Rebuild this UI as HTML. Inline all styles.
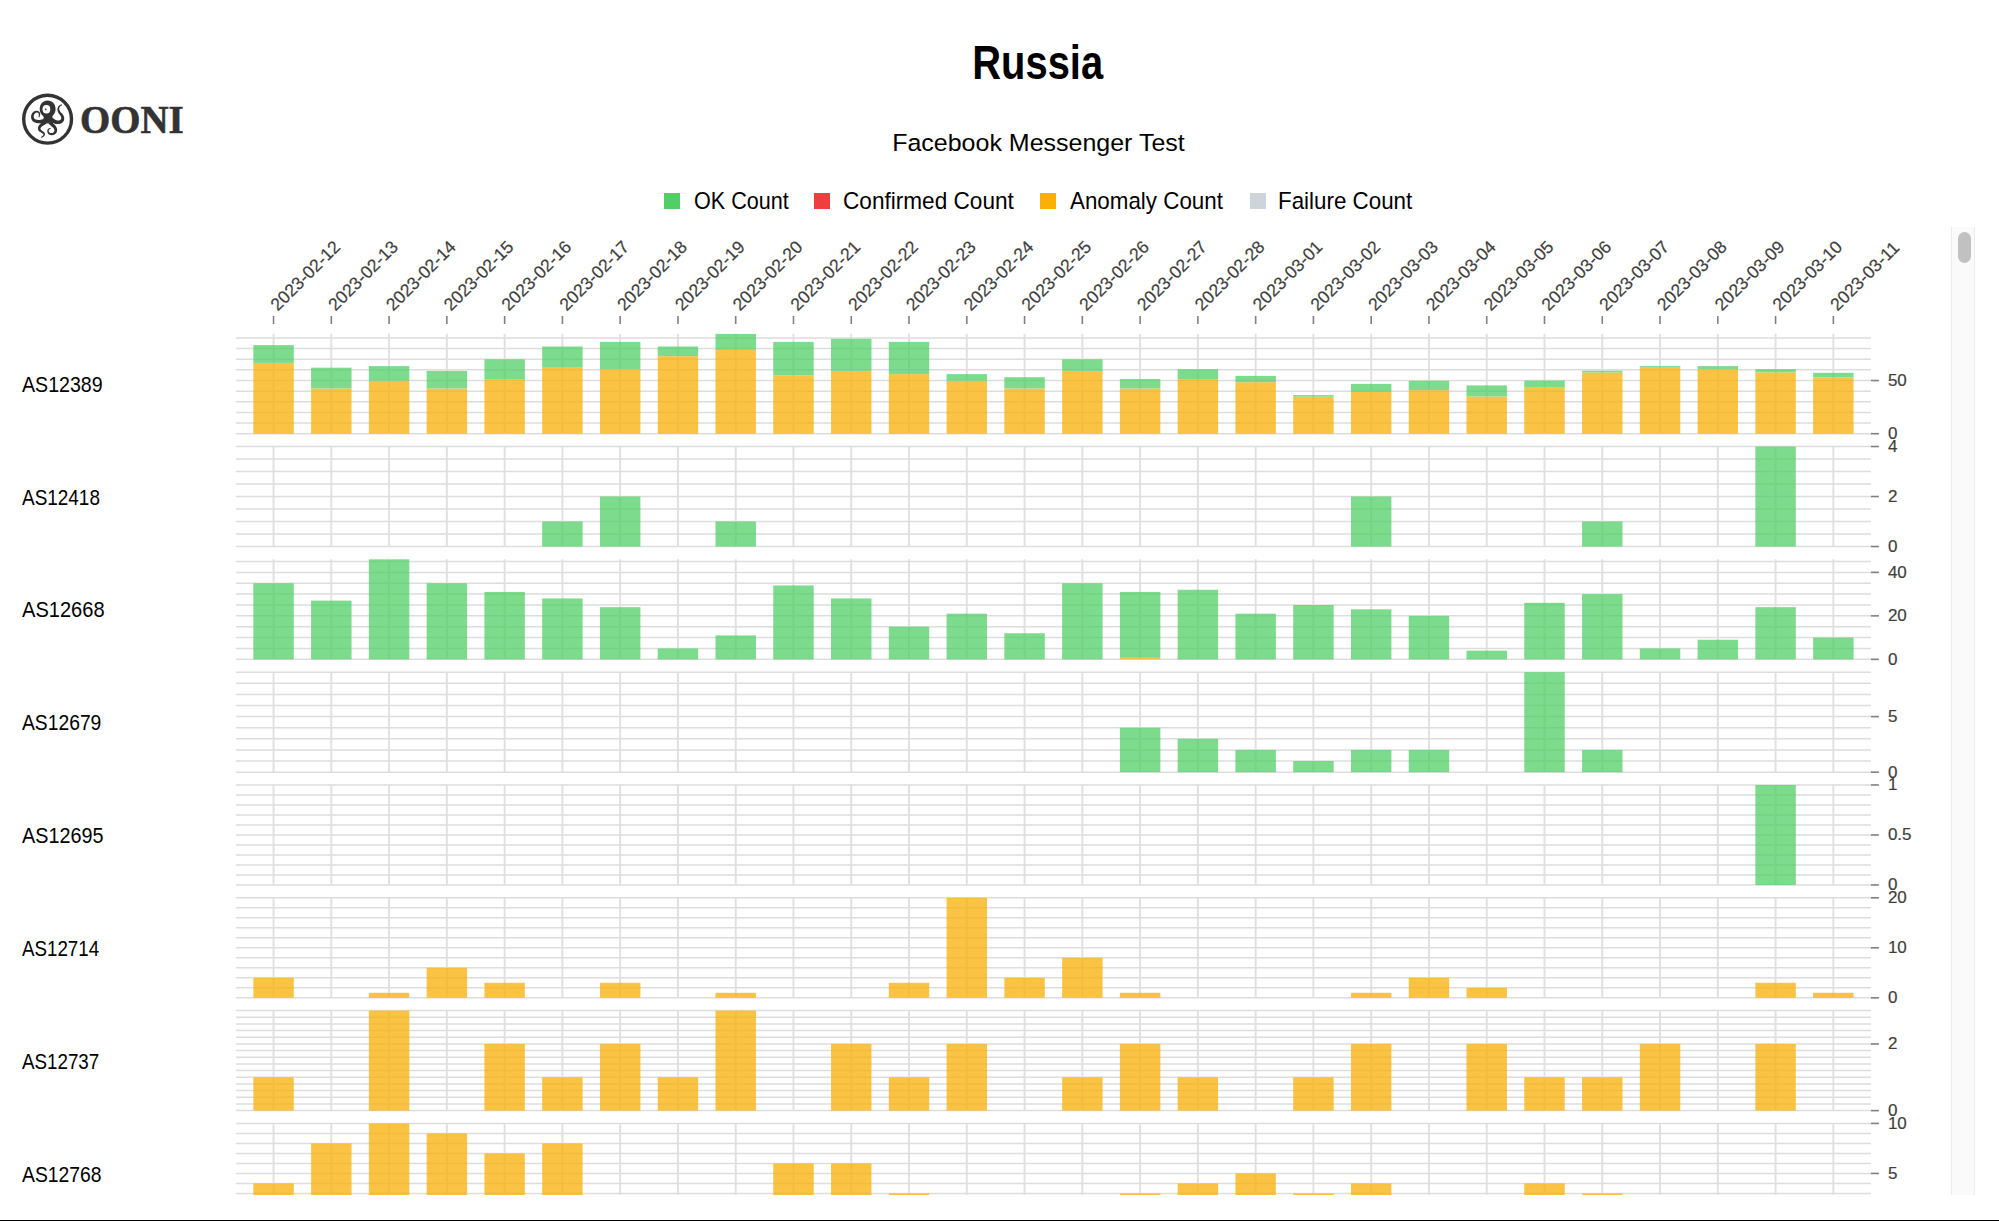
<!DOCTYPE html>
<html><head><meta charset="utf-8"><title>Russia - Facebook Messenger Test</title>
<style>
html,body{margin:0;padding:0;background:#fff;}
body{width:1999px;height:1221px;position:relative;overflow:hidden;font-family:"Liberation Sans",sans-serif;color:#000;}
.abs{position:absolute;}
#title{position:absolute;left:0;width:2076px;top:33.1px;text-align:center;font-weight:bold;font-size:47.4px;line-height:60px;white-space:nowrap;}
#title span{display:inline-block;transform:scaleX(0.842);}
#sub{position:absolute;left:0;width:2077px;top:126px;text-align:center;font-size:24.5px;line-height:34px;white-space:nowrap;}
#sub span{display:inline-block;transform:scaleX(1.02);}
.leg{position:absolute;top:193px;width:16.4px;height:16.4px;}
.lt{position:absolute;top:186px;font-size:23.25px;line-height:30px;white-space:nowrap;transform-origin:0 50%;}
#cont{position:absolute;left:0;top:227.0px;width:1976px;height:968px;overflow:hidden;}
#cont svg{position:absolute;left:0;top:0;}
.asn{position:absolute;left:22px;font-size:22.6px;line-height:24px;margin-top:-11.5px;white-space:nowrap;transform-origin:0 50%;transform:scaleX(0.86);}
.tk{stroke:#808080;stroke-width:1.6;}
.gr{stroke:#dddddd;stroke-width:1.5;fill:none;}
.gv{stroke:#e0e0e0;stroke-width:1.9;fill:none;}
.dt{font-family:"Liberation Sans",sans-serif;font-size:17.6px;fill:#3d3d3d;stroke:#4d4d4d;stroke-width:0.2px;dominant-baseline:central;}
.yt{font-family:"Liberation Sans",sans-serif;font-size:17px;fill:#3d3d3d;stroke:#4d4d4d;stroke-width:0.2px;dominant-baseline:central;}
#track{position:absolute;left:1951px;top:227px;width:24px;height:968px;background:#fafafa;border-left:1px solid #ececec;border-right:1px solid #ececec;box-sizing:border-box;}
#thumb{position:absolute;left:1958px;top:232px;width:13px;height:31px;background:#c1c1c1;border-radius:7px;}
#bottom{position:absolute;left:0;top:1220px;width:1999px;height:1px;background:#000;}
</style></head><body>
<div id="title"><span>Russia</span></div>
<svg class="abs" style="left:20px;top:91px" width="56" height="56" viewBox="0 0 56 56">
  <circle cx="27.6" cy="28.2" r="23.9" fill="none" stroke="#333" stroke-width="3.4"/>
  <g fill="#333" stroke="none">
    <path d="M27.6 9.6 C32.5 9.6 35.6 13.5 35.6 18.3 C35.6 21.8 33.6 23.6 32.3 25.4 C31.6 26.6 32.2 28.2 33 29.5 L27.6 32.6 L22.3 29.5 C23.2 28.2 24.4 26.6 23.3 25.2 C21 23.2 19.7 21.2 19.7 18.3 C19.7 13.5 22.7 9.6 27.6 9.6 Z"/>
  </g>
  <path fill="#333" d="M24.8 27.6 L24.4 27.7 L24.0 27.9 L23.6 28.1 L23.1 28.2 L22.7 28.3 L22.3 28.4 L21.9 28.6 L21.4 28.6 L21.0 28.7 L20.6 28.8 L20.2 28.9 L19.7 28.9 L19.3 28.9 L18.9 28.9 L18.5 28.9 L18.1 28.9 L17.7 28.9 L17.3 28.8 L16.9 28.8 L16.5 28.7 L16.2 28.6 L15.9 28.5 L15.5 28.4 L15.3 28.3 L15.0 28.1 L14.8 28.0 L14.6 27.8 L14.4 27.6 L14.3 27.4 L14.1 27.1 L14.0 26.9 L13.9 26.6 L13.8 26.3 L13.8 26.0 L13.7 25.6 L13.7 25.3 L13.8 25.0 L13.8 24.6 L13.9 24.3 L14.0 24.0 L14.1 23.6 L14.3 23.3 L14.5 23.0 L14.7 22.7 L14.9 22.5 L15.2 22.2 L15.5 22.0 L15.8 21.8 L15.9 21.8 L16.1 21.7 L16.3 21.6 L16.5 21.6 L16.7 21.6 L16.9 21.6 L17.1 21.6 L17.3 21.6 L17.4 21.6 L17.6 21.7 L17.7 21.7 L17.9 21.8 L18.0 21.9 L18.1 22.0 L18.3 22.1 L18.4 22.2 L18.5 22.3 L18.6 22.4 L18.6 22.5 L18.7 22.7 L18.8 22.8 L18.8 23.0 L18.8 23.2 L18.8 23.4 L18.8 23.5 L18.8 23.6 L18.8 23.8 L18.8 23.9 L18.8 24.0 L18.8 24.2 L18.8 24.3 L18.8 24.4 L18.8 24.5 L18.7 24.7 L18.7 24.8 L18.7 24.9 L18.7 25.0 L18.7 25.1 L18.6 25.2 L18.6 25.4 L18.6 25.5 L18.6 25.6 L18.5 25.7 L18.5 25.8 L18.5 25.9 L18.4 25.9 L18.4 26.0 L18.4 26.1 L19.2 26.5 L19.3 26.4 L19.3 26.3 L19.4 26.2 L19.4 26.1 L19.4 26.0 L19.5 25.9 L19.5 25.8 L19.6 25.7 L19.6 25.5 L19.7 25.4 L19.7 25.3 L19.8 25.2 L19.8 25.0 L19.8 24.9 L19.9 24.8 L19.9 24.6 L19.9 24.5 L20.0 24.4 L20.0 24.2 L20.0 24.1 L20.1 23.9 L20.1 23.8 L20.1 23.6 L20.2 23.4 L20.2 23.1 L20.2 22.8 L20.1 22.5 L20.1 22.2 L20.0 22.0 L19.9 21.7 L19.7 21.4 L19.6 21.2 L19.4 21.0 L19.2 20.8 L19.0 20.6 L18.8 20.4 L18.5 20.2 L18.2 20.1 L18.0 20.0 L17.7 19.9 L17.4 19.8 L17.1 19.8 L16.7 19.7 L16.4 19.7 L16.1 19.7 L15.7 19.8 L15.4 19.9 L15.0 20.0 L14.5 20.2 L14.0 20.5 L13.5 20.8 L13.1 21.2 L12.7 21.6 L12.3 22.0 L12.0 22.5 L11.8 23.0 L11.5 23.5 L11.4 24.0 L11.2 24.5 L11.1 25.1 L11.1 25.6 L11.1 26.1 L11.1 26.7 L11.2 27.2 L11.3 27.8 L11.5 28.3 L11.8 28.8 L12.0 29.3 L12.4 29.7 L12.8 30.2 L13.2 30.6 L13.7 30.9 L14.2 31.2 L14.7 31.4 L15.2 31.6 L15.7 31.8 L16.2 31.9 L16.7 32.0 L17.2 32.1 L17.8 32.2 L18.3 32.3 L18.8 32.3 L19.4 32.3 L19.9 32.3 L20.4 32.3 L21.0 32.2 L21.5 32.2 L22.1 32.1 L22.6 32.0 L23.2 31.9 L23.7 31.7 L24.2 31.6 L24.7 31.4 L25.2 31.3 L25.8 31.1 L26.2 30.8ZM29.3 28.9 L29.7 29.3 L30.1 29.8 L30.5 30.2 L31.0 30.6 L31.4 30.9 L31.9 31.3 L32.4 31.6 L32.9 31.9 L33.4 32.1 L33.9 32.3 L34.4 32.5 L35.0 32.7 L35.5 32.9 L36.0 33.0 L36.6 33.1 L37.1 33.1 L37.7 33.1 L38.2 33.1 L38.7 33.1 L39.3 33.0 L39.8 32.8 L40.3 32.7 L40.8 32.5 L41.4 32.2 L41.9 31.9 L42.3 31.6 L42.7 31.2 L43.1 30.8 L43.4 30.4 L43.6 29.9 L43.9 29.5 L44.0 29.0 L44.1 28.5 L44.2 28.0 L44.2 27.6 L44.2 27.1 L44.2 26.6 L44.1 26.1 L43.9 25.7 L43.8 25.2 L43.6 24.7 L43.4 24.3 L43.1 23.9 L42.8 23.5 L42.5 23.0 L42.2 22.7 L41.9 22.3 L41.5 21.9 L41.2 21.7 L40.9 21.4 L40.7 21.2 L40.5 20.9 L40.3 20.6 L40.1 20.4 L39.9 20.1 L39.8 19.8 L39.6 19.6 L39.5 19.3 L39.4 19.0 L39.4 18.8 L39.3 18.5 L39.2 18.3 L39.2 18.0 L39.2 17.8 L39.2 17.5 L39.3 17.3 L39.3 17.0 L39.4 16.8 L39.4 16.5 L39.6 16.3 L39.7 16.1 L39.8 15.8 L39.9 15.8 L40.0 15.7 L40.1 15.6 L40.1 15.5 L40.2 15.4 L40.3 15.3 L40.4 15.2 L40.5 15.1 L40.6 15.0 L40.7 15.0 L40.8 14.9 L40.9 14.8 L41.0 14.8 L41.1 14.7 L41.1 14.6 L41.2 14.6 L41.3 14.5 L41.4 14.5 L41.6 14.4 L41.7 14.4 L41.8 14.4 L41.9 14.3 L42.0 14.3 L42.1 14.2 L41.9 13.4 L41.8 13.4 L41.6 13.4 L41.5 13.4 L41.4 13.5 L41.2 13.5 L41.1 13.5 L41.0 13.6 L40.8 13.6 L40.7 13.7 L40.6 13.7 L40.4 13.8 L40.3 13.8 L40.2 13.9 L40.0 14.0 L39.9 14.1 L39.8 14.1 L39.6 14.2 L39.5 14.3 L39.4 14.4 L39.3 14.5 L39.1 14.6 L39.0 14.7 L38.9 14.8 L38.8 15.0 L38.5 15.2 L38.3 15.5 L38.1 15.8 L37.9 16.2 L37.8 16.5 L37.6 16.9 L37.6 17.2 L37.5 17.6 L37.4 18.0 L37.4 18.4 L37.4 18.7 L37.5 19.1 L37.5 19.5 L37.6 19.9 L37.7 20.3 L37.9 20.7 L38.0 21.1 L38.2 21.5 L38.4 21.8 L38.6 22.2 L38.9 22.6 L39.1 23.0 L39.4 23.3 L39.7 23.7 L40.0 24.0 L40.2 24.3 L40.4 24.6 L40.6 24.9 L40.7 25.2 L40.9 25.5 L41.0 25.8 L41.1 26.1 L41.1 26.4 L41.2 26.7 L41.2 26.9 L41.2 27.2 L41.2 27.4 L41.1 27.6 L41.1 27.8 L41.0 28.0 L40.9 28.2 L40.8 28.4 L40.7 28.5 L40.6 28.7 L40.4 28.8 L40.2 28.9 L40.0 29.1 L39.8 29.2 L39.6 29.3 L39.3 29.3 L39.0 29.4 L38.7 29.5 L38.4 29.5 L38.1 29.5 L37.8 29.5 L37.4 29.4 L37.1 29.4 L36.8 29.3 L36.5 29.2 L36.1 29.1 L35.8 29.0 L35.5 28.8 L35.1 28.7 L34.8 28.5 L34.5 28.3 L34.2 28.0 L33.8 27.8 L33.5 27.5 L33.2 27.2 L32.9 27.0 L32.6 26.6 L32.3 26.3ZM24.9 29.5 L24.6 29.7 L24.4 29.9 L24.1 30.1 L23.9 30.4 L23.6 30.6 L23.3 30.8 L23.0 31.0 L22.6 31.2 L22.3 31.4 L22.0 31.6 L21.6 31.9 L21.3 32.1 L21.0 32.4 L20.6 32.6 L20.3 32.9 L20.0 33.2 L19.6 33.5 L19.3 33.8 L19.1 34.2 L18.8 34.6 L18.6 35.0 L18.3 35.4 L18.2 35.8 L18.0 36.3 L17.9 36.8 L17.9 37.3 L17.9 37.8 L18.0 38.2 L18.1 38.6 L18.2 39.0 L18.4 39.3 L18.6 39.7 L18.9 40.0 L19.1 40.3 L19.4 40.5 L19.7 40.7 L20.0 40.9 L20.3 41.1 L20.6 41.3 L20.9 41.5 L21.2 41.7 L21.5 41.8 L21.7 42.0 L22.0 42.1 L22.3 42.3 L22.6 42.4 L22.9 42.5 L23.1 42.6 L23.1 42.7 L23.2 42.7 L23.3 42.8 L23.3 42.9 L23.4 43.0 L23.4 43.1 L23.4 43.2 L23.4 43.3 L23.4 43.4 L23.4 43.6 L23.4 43.7 L23.3 43.9 L23.2 44.1 L23.1 44.2 L23.0 44.4 L22.9 44.6 L22.7 44.8 L22.5 45.0 L22.3 45.1 L22.0 45.3 L21.8 45.5 L21.5 45.7 L21.2 45.8 L20.8 46.0 L21.2 46.8 L21.5 46.7 L21.9 46.6 L22.3 46.4 L22.6 46.3 L22.9 46.1 L23.2 45.9 L23.5 45.7 L23.8 45.5 L24.0 45.3 L24.2 45.1 L24.4 44.8 L24.6 44.6 L24.7 44.3 L24.9 44.0 L24.9 43.7 L25.0 43.5 L25.0 43.2 L25.0 42.9 L25.0 42.6 L24.9 42.3 L24.8 42.0 L24.6 41.7 L24.4 41.4 L24.1 41.2 L23.8 41.0 L23.6 40.8 L23.3 40.6 L23.0 40.4 L22.8 40.2 L22.5 40.0 L22.3 39.9 L22.0 39.7 L21.8 39.5 L21.6 39.3 L21.4 39.2 L21.2 39.0 L21.0 38.8 L20.9 38.7 L20.8 38.5 L20.7 38.3 L20.6 38.2 L20.6 38.0 L20.5 37.9 L20.5 37.7 L20.5 37.6 L20.5 37.4 L20.6 37.2 L20.6 37.1 L20.7 36.9 L20.8 36.6 L21.0 36.4 L21.1 36.2 L21.3 36.0 L21.5 35.8 L21.7 35.6 L21.9 35.5 L22.2 35.3 L22.5 35.1 L22.7 34.9 L23.0 34.7 L23.3 34.5 L23.7 34.3 L24.0 34.1 L24.3 34.0 L24.7 33.8 L25.0 33.5 L25.4 33.3 L25.7 33.1 L26.1 32.9 L26.5 32.6 L26.8 32.3 L27.1 32.1ZM28.2 32.4 L28.5 32.7 L28.8 33.0 L29.1 33.3 L29.5 33.6 L29.8 33.8 L30.1 34.1 L30.5 34.4 L30.8 34.6 L31.1 34.9 L31.4 35.2 L31.8 35.4 L32.1 35.7 L32.4 35.9 L32.6 36.2 L32.9 36.5 L33.1 36.7 L33.4 37.0 L33.6 37.2 L33.7 37.5 L33.9 37.7 L34.0 38.0 L34.1 38.2 L34.2 38.5 L34.3 38.7 L34.4 39.0 L34.4 39.2 L34.4 39.5 L34.4 39.7 L34.3 39.9 L34.3 40.1 L34.2 40.3 L34.1 40.5 L34.0 40.7 L33.9 40.8 L33.8 41.0 L33.7 41.1 L33.5 41.3 L33.3 41.4 L33.1 41.6 L32.9 41.7 L32.7 41.8 L32.5 41.9 L32.2 41.9 L32.0 42.0 L31.7 42.1 L31.5 42.1 L31.2 42.1 L30.9 42.1 L30.7 42.1 L30.5 42.0 L30.3 42.0 L30.1 41.9 L29.9 41.8 L29.8 41.7 L29.6 41.6 L29.5 41.5 L29.3 41.4 L29.2 41.2 L29.1 41.1 L29.0 40.9 L28.9 40.8 L28.9 40.6 L28.8 40.4 L28.8 40.3 L28.7 40.1 L28.7 39.9 L28.7 39.8 L28.7 39.6 L28.7 39.4 L28.8 39.3 L28.8 39.1 L28.9 39.0 L28.9 39.0 L28.9 38.9 L29.0 38.8 L29.0 38.7 L29.1 38.7 L29.1 38.6 L29.2 38.5 L29.3 38.5 L29.3 38.4 L29.4 38.4 L29.4 38.3 L29.5 38.3 L29.6 38.2 L29.7 38.2 L29.7 38.1 L29.8 38.1 L29.9 38.0 L30.0 38.0 L30.1 38.0 L30.2 37.9 L30.3 37.9 L30.4 37.9 L30.5 37.9 L30.6 37.8 L30.4 37.0 L30.3 37.0 L30.2 37.0 L30.1 37.0 L29.9 37.0 L29.8 37.0 L29.7 37.1 L29.6 37.1 L29.5 37.1 L29.3 37.2 L29.2 37.2 L29.1 37.3 L29.0 37.3 L28.9 37.4 L28.8 37.4 L28.6 37.5 L28.5 37.6 L28.4 37.7 L28.3 37.7 L28.2 37.8 L28.1 37.9 L28.0 38.0 L27.9 38.1 L27.8 38.2 L27.7 38.4 L27.6 38.6 L27.5 38.9 L27.4 39.1 L27.3 39.4 L27.3 39.6 L27.3 39.9 L27.3 40.2 L27.3 40.5 L27.3 40.8 L27.4 41.0 L27.4 41.3 L27.5 41.6 L27.7 41.9 L27.8 42.2 L28.0 42.4 L28.2 42.7 L28.4 42.9 L28.6 43.2 L28.9 43.4 L29.2 43.6 L29.5 43.7 L29.9 43.9 L30.3 44.0 L30.7 44.1 L31.1 44.2 L31.5 44.2 L31.9 44.2 L32.3 44.2 L32.7 44.1 L33.1 44.0 L33.5 43.9 L33.8 43.8 L34.2 43.6 L34.6 43.5 L34.9 43.2 L35.2 43.0 L35.6 42.7 L35.8 42.5 L36.1 42.1 L36.4 41.8 L36.6 41.4 L36.8 41.0 L36.9 40.6 L37.0 40.2 L37.1 39.7 L37.1 39.3 L37.1 38.8 L37.1 38.3 L37.0 37.8 L36.9 37.3 L36.7 36.8 L36.5 36.4 L36.3 35.9 L36.0 35.5 L35.8 35.1 L35.5 34.7 L35.2 34.4 L34.9 34.0 L34.6 33.7 L34.2 33.3 L33.9 33.0 L33.6 32.7 L33.2 32.4 L32.9 32.1 L32.6 31.8 L32.3 31.6 L32.0 31.3 L31.7 31.0 L31.4 30.8 L31.1 30.5 L30.9 30.3 L30.6 30.0Z"/>
  <ellipse cx="26.4" cy="18.3" rx="3.9" ry="4.2" fill="#fff"/>
  <circle cx="25.7" cy="18.3" r="0.9" fill="#333"/>
</svg>
<div class="abs" style="left:80.2px;top:98.3px;font-family:'Liberation Serif',serif;font-weight:bold;font-size:39.9px;line-height:44px;color:#333;-webkit-text-stroke:0.6px #333;white-space:nowrap;transform:scaleX(0.975);transform-origin:0 0;">OONI</div>
<div id="sub"><span>Facebook Messenger Test</span></div>
<div class="leg" style="left:664px;background:#51cf66"></div>
<div class="lt" style="left:693.5px;transform:scaleX(0.928)">OK Count</div>
<div class="leg" style="left:814px;background:#f03e3e"></div>
<div class="lt" style="left:843px;transform:scaleX(0.972)">Confirmed Count</div>
<div class="leg" style="left:1039.6px;background:#fab005"></div>
<div class="lt" style="left:1070px;transform:scaleX(0.962)">Anomaly Count</div>
<div class="leg" style="left:1249.6px;background:#ced4da"></div>
<div class="lt" style="left:1278.4px;transform:scaleX(0.962)">Failure Count</div>
<div id="cont">
<div class="asn" style="top:157.3px;transform:scaleX(0.8676)">AS12389</div><div class="asn" style="top:270.1px;transform:scaleX(0.8382)">AS12418</div><div class="asn" style="top:382.9px;transform:scaleX(0.8883)">AS12668</div><div class="asn" style="top:495.8px;transform:scaleX(0.8535)">AS12679</div><div class="asn" style="top:608.6px;transform:scaleX(0.8763)">AS12695</div><div class="asn" style="top:721.4px;transform:scaleX(0.8295)">AS12714</div><div class="asn" style="top:834.2px;transform:scaleX(0.8306)">AS12737</div><div class="asn" style="top:947.0px;transform:scaleX(0.8556)">AS12768</div>
<svg width="1976" height="1100" viewBox="0 0 1976 1100"><line x1="273.55" y1="89.00" x2="273.55" y2="97.00" class="tk"/><text class="dt" transform="translate(273.55,80.40) rotate(-45)">2023-02-12</text><line x1="331.32" y1="89.00" x2="331.32" y2="97.00" class="tk"/><text class="dt" transform="translate(331.32,80.40) rotate(-45)">2023-02-13</text><line x1="389.09" y1="89.00" x2="389.09" y2="97.00" class="tk"/><text class="dt" transform="translate(389.09,80.40) rotate(-45)">2023-02-14</text><line x1="446.86" y1="89.00" x2="446.86" y2="97.00" class="tk"/><text class="dt" transform="translate(446.86,80.40) rotate(-45)">2023-02-15</text><line x1="504.63" y1="89.00" x2="504.63" y2="97.00" class="tk"/><text class="dt" transform="translate(504.63,80.40) rotate(-45)">2023-02-16</text><line x1="562.40" y1="89.00" x2="562.40" y2="97.00" class="tk"/><text class="dt" transform="translate(562.40,80.40) rotate(-45)">2023-02-17</text><line x1="620.17" y1="89.00" x2="620.17" y2="97.00" class="tk"/><text class="dt" transform="translate(620.17,80.40) rotate(-45)">2023-02-18</text><line x1="677.94" y1="89.00" x2="677.94" y2="97.00" class="tk"/><text class="dt" transform="translate(677.94,80.40) rotate(-45)">2023-02-19</text><line x1="735.71" y1="89.00" x2="735.71" y2="97.00" class="tk"/><text class="dt" transform="translate(735.71,80.40) rotate(-45)">2023-02-20</text><line x1="793.48" y1="89.00" x2="793.48" y2="97.00" class="tk"/><text class="dt" transform="translate(793.48,80.40) rotate(-45)">2023-02-21</text><line x1="851.25" y1="89.00" x2="851.25" y2="97.00" class="tk"/><text class="dt" transform="translate(851.25,80.40) rotate(-45)">2023-02-22</text><line x1="909.02" y1="89.00" x2="909.02" y2="97.00" class="tk"/><text class="dt" transform="translate(909.02,80.40) rotate(-45)">2023-02-23</text><line x1="966.79" y1="89.00" x2="966.79" y2="97.00" class="tk"/><text class="dt" transform="translate(966.79,80.40) rotate(-45)">2023-02-24</text><line x1="1024.56" y1="89.00" x2="1024.56" y2="97.00" class="tk"/><text class="dt" transform="translate(1024.56,80.40) rotate(-45)">2023-02-25</text><line x1="1082.34" y1="89.00" x2="1082.34" y2="97.00" class="tk"/><text class="dt" transform="translate(1082.34,80.40) rotate(-45)">2023-02-26</text><line x1="1140.11" y1="89.00" x2="1140.11" y2="97.00" class="tk"/><text class="dt" transform="translate(1140.11,80.40) rotate(-45)">2023-02-27</text><line x1="1197.88" y1="89.00" x2="1197.88" y2="97.00" class="tk"/><text class="dt" transform="translate(1197.88,80.40) rotate(-45)">2023-02-28</text><line x1="1255.65" y1="89.00" x2="1255.65" y2="97.00" class="tk"/><text class="dt" transform="translate(1255.65,80.40) rotate(-45)">2023-03-01</text><line x1="1313.42" y1="89.00" x2="1313.42" y2="97.00" class="tk"/><text class="dt" transform="translate(1313.42,80.40) rotate(-45)">2023-03-02</text><line x1="1371.19" y1="89.00" x2="1371.19" y2="97.00" class="tk"/><text class="dt" transform="translate(1371.19,80.40) rotate(-45)">2023-03-03</text><line x1="1428.96" y1="89.00" x2="1428.96" y2="97.00" class="tk"/><text class="dt" transform="translate(1428.96,80.40) rotate(-45)">2023-03-04</text><line x1="1486.73" y1="89.00" x2="1486.73" y2="97.00" class="tk"/><text class="dt" transform="translate(1486.73,80.40) rotate(-45)">2023-03-05</text><line x1="1544.50" y1="89.00" x2="1544.50" y2="97.00" class="tk"/><text class="dt" transform="translate(1544.50,80.40) rotate(-45)">2023-03-06</text><line x1="1602.27" y1="89.00" x2="1602.27" y2="97.00" class="tk"/><text class="dt" transform="translate(1602.27,80.40) rotate(-45)">2023-03-07</text><line x1="1660.04" y1="89.00" x2="1660.04" y2="97.00" class="tk"/><text class="dt" transform="translate(1660.04,80.40) rotate(-45)">2023-03-08</text><line x1="1717.81" y1="89.00" x2="1717.81" y2="97.00" class="tk"/><text class="dt" transform="translate(1717.81,80.40) rotate(-45)">2023-03-09</text><line x1="1775.58" y1="89.00" x2="1775.58" y2="97.00" class="tk"/><text class="dt" transform="translate(1775.58,80.40) rotate(-45)">2023-03-10</text><line x1="1833.35" y1="89.00" x2="1833.35" y2="97.00" class="tk"/><text class="dt" transform="translate(1833.35,80.40) rotate(-45)">2023-03-11</text><path d="M236.0 206.70H1870.9M236.0 196.06H1870.9M236.0 185.42H1870.9M236.0 174.79H1870.9M236.0 164.15H1870.9M236.0 153.51H1870.9M236.0 142.87H1870.9M236.0 132.23H1870.9M236.0 121.59H1870.9M236.0 110.96H1870.9M236.0 319.52H1870.9M236.0 307.02H1870.9M236.0 294.52H1870.9M236.0 282.02H1870.9M236.0 269.52H1870.9M236.0 257.02H1870.9M236.0 244.52H1870.9M236.0 232.02H1870.9M236.0 219.52H1870.9M236.0 432.34H1870.9M236.0 421.47H1870.9M236.0 410.60H1870.9M236.0 399.73H1870.9M236.0 388.86H1870.9M236.0 377.99H1870.9M236.0 367.12H1870.9M236.0 356.25H1870.9M236.0 345.38H1870.9M236.0 334.51H1870.9M236.0 545.16H1870.9M236.0 534.05H1870.9M236.0 522.94H1870.9M236.0 511.83H1870.9M236.0 500.72H1870.9M236.0 489.60H1870.9M236.0 478.49H1870.9M236.0 467.38H1870.9M236.0 456.27H1870.9M236.0 445.16H1870.9M236.0 657.98H1870.9M236.0 647.98H1870.9M236.0 637.98H1870.9M236.0 627.98H1870.9M236.0 617.98H1870.9M236.0 607.98H1870.9M236.0 597.98H1870.9M236.0 587.98H1870.9M236.0 577.98H1870.9M236.0 567.98H1870.9M236.0 557.98H1870.9M236.0 770.80H1870.9M236.0 760.80H1870.9M236.0 750.80H1870.9M236.0 740.80H1870.9M236.0 730.80H1870.9M236.0 720.80H1870.9M236.0 710.80H1870.9M236.0 700.80H1870.9M236.0 690.80H1870.9M236.0 680.80H1870.9M236.0 670.80H1870.9M236.0 883.62H1870.9M236.0 876.95H1870.9M236.0 870.29H1870.9M236.0 863.62H1870.9M236.0 856.95H1870.9M236.0 850.29H1870.9M236.0 843.62H1870.9M236.0 836.95H1870.9M236.0 830.29H1870.9M236.0 823.62H1870.9M236.0 816.95H1870.9M236.0 810.29H1870.9M236.0 803.62H1870.9M236.0 796.95H1870.9M236.0 790.29H1870.9M236.0 783.62H1870.9M236.0 996.44H1870.9M236.0 986.44H1870.9M236.0 976.44H1870.9M236.0 966.44H1870.9M236.0 956.44H1870.9M236.0 946.44H1870.9M236.0 936.44H1870.9M236.0 926.44H1870.9M236.0 916.44H1870.9M236.0 906.44H1870.9M236.0 896.44H1870.9" class="gr"/><path d="M273.55 106.70V206.70M331.32 106.70V206.70M389.09 106.70V206.70M446.86 106.70V206.70M504.63 106.70V206.70M562.40 106.70V206.70M620.17 106.70V206.70M677.94 106.70V206.70M735.71 106.70V206.70M793.48 106.70V206.70M851.25 106.70V206.70M909.02 106.70V206.70M966.79 106.70V206.70M1024.56 106.70V206.70M1082.34 106.70V206.70M1140.11 106.70V206.70M1197.88 106.70V206.70M1255.65 106.70V206.70M1313.42 106.70V206.70M1371.19 106.70V206.70M1428.96 106.70V206.70M1486.73 106.70V206.70M1544.50 106.70V206.70M1602.27 106.70V206.70M1660.04 106.70V206.70M1717.81 106.70V206.70M1775.58 106.70V206.70M1833.35 106.70V206.70M273.55 219.52V319.52M331.32 219.52V319.52M389.09 219.52V319.52M446.86 219.52V319.52M504.63 219.52V319.52M562.40 219.52V319.52M620.17 219.52V319.52M677.94 219.52V319.52M735.71 219.52V319.52M793.48 219.52V319.52M851.25 219.52V319.52M909.02 219.52V319.52M966.79 219.52V319.52M1024.56 219.52V319.52M1082.34 219.52V319.52M1140.11 219.52V319.52M1197.88 219.52V319.52M1255.65 219.52V319.52M1313.42 219.52V319.52M1371.19 219.52V319.52M1428.96 219.52V319.52M1486.73 219.52V319.52M1544.50 219.52V319.52M1602.27 219.52V319.52M1660.04 219.52V319.52M1717.81 219.52V319.52M1775.58 219.52V319.52M1833.35 219.52V319.52M273.55 332.34V432.34M331.32 332.34V432.34M389.09 332.34V432.34M446.86 332.34V432.34M504.63 332.34V432.34M562.40 332.34V432.34M620.17 332.34V432.34M677.94 332.34V432.34M735.71 332.34V432.34M793.48 332.34V432.34M851.25 332.34V432.34M909.02 332.34V432.34M966.79 332.34V432.34M1024.56 332.34V432.34M1082.34 332.34V432.34M1140.11 332.34V432.34M1197.88 332.34V432.34M1255.65 332.34V432.34M1313.42 332.34V432.34M1371.19 332.34V432.34M1428.96 332.34V432.34M1486.73 332.34V432.34M1544.50 332.34V432.34M1602.27 332.34V432.34M1660.04 332.34V432.34M1717.81 332.34V432.34M1775.58 332.34V432.34M1833.35 332.34V432.34M273.55 445.16V545.16M331.32 445.16V545.16M389.09 445.16V545.16M446.86 445.16V545.16M504.63 445.16V545.16M562.40 445.16V545.16M620.17 445.16V545.16M677.94 445.16V545.16M735.71 445.16V545.16M793.48 445.16V545.16M851.25 445.16V545.16M909.02 445.16V545.16M966.79 445.16V545.16M1024.56 445.16V545.16M1082.34 445.16V545.16M1140.11 445.16V545.16M1197.88 445.16V545.16M1255.65 445.16V545.16M1313.42 445.16V545.16M1371.19 445.16V545.16M1428.96 445.16V545.16M1486.73 445.16V545.16M1544.50 445.16V545.16M1602.27 445.16V545.16M1660.04 445.16V545.16M1717.81 445.16V545.16M1775.58 445.16V545.16M1833.35 445.16V545.16M273.55 557.98V657.98M331.32 557.98V657.98M389.09 557.98V657.98M446.86 557.98V657.98M504.63 557.98V657.98M562.40 557.98V657.98M620.17 557.98V657.98M677.94 557.98V657.98M735.71 557.98V657.98M793.48 557.98V657.98M851.25 557.98V657.98M909.02 557.98V657.98M966.79 557.98V657.98M1024.56 557.98V657.98M1082.34 557.98V657.98M1140.11 557.98V657.98M1197.88 557.98V657.98M1255.65 557.98V657.98M1313.42 557.98V657.98M1371.19 557.98V657.98M1428.96 557.98V657.98M1486.73 557.98V657.98M1544.50 557.98V657.98M1602.27 557.98V657.98M1660.04 557.98V657.98M1717.81 557.98V657.98M1775.58 557.98V657.98M1833.35 557.98V657.98M273.55 670.80V770.80M331.32 670.80V770.80M389.09 670.80V770.80M446.86 670.80V770.80M504.63 670.80V770.80M562.40 670.80V770.80M620.17 670.80V770.80M677.94 670.80V770.80M735.71 670.80V770.80M793.48 670.80V770.80M851.25 670.80V770.80M909.02 670.80V770.80M966.79 670.80V770.80M1024.56 670.80V770.80M1082.34 670.80V770.80M1140.11 670.80V770.80M1197.88 670.80V770.80M1255.65 670.80V770.80M1313.42 670.80V770.80M1371.19 670.80V770.80M1428.96 670.80V770.80M1486.73 670.80V770.80M1544.50 670.80V770.80M1602.27 670.80V770.80M1660.04 670.80V770.80M1717.81 670.80V770.80M1775.58 670.80V770.80M1833.35 670.80V770.80M273.55 783.62V883.62M331.32 783.62V883.62M389.09 783.62V883.62M446.86 783.62V883.62M504.63 783.62V883.62M562.40 783.62V883.62M620.17 783.62V883.62M677.94 783.62V883.62M735.71 783.62V883.62M793.48 783.62V883.62M851.25 783.62V883.62M909.02 783.62V883.62M966.79 783.62V883.62M1024.56 783.62V883.62M1082.34 783.62V883.62M1140.11 783.62V883.62M1197.88 783.62V883.62M1255.65 783.62V883.62M1313.42 783.62V883.62M1371.19 783.62V883.62M1428.96 783.62V883.62M1486.73 783.62V883.62M1544.50 783.62V883.62M1602.27 783.62V883.62M1660.04 783.62V883.62M1717.81 783.62V883.62M1775.58 783.62V883.62M1833.35 783.62V883.62M273.55 896.44V996.44M331.32 896.44V996.44M389.09 896.44V996.44M446.86 896.44V996.44M504.63 896.44V996.44M562.40 896.44V996.44M620.17 896.44V996.44M677.94 896.44V996.44M735.71 896.44V996.44M793.48 896.44V996.44M851.25 896.44V996.44M909.02 896.44V996.44M966.79 896.44V996.44M1024.56 896.44V996.44M1082.34 896.44V996.44M1140.11 896.44V996.44M1197.88 896.44V996.44M1255.65 896.44V996.44M1313.42 896.44V996.44M1371.19 896.44V996.44M1428.96 896.44V996.44M1486.73 896.44V996.44M1544.50 896.44V996.44M1602.27 896.44V996.44M1660.04 896.44V996.44M1717.81 896.44V996.44M1775.58 896.44V996.44M1833.35 896.44V996.44" class="gv"/><g opacity="0.75"><rect x="253.33" y="135.90" width="40.44" height="70.80" fill="#fab005"/><rect x="253.33" y="118.10" width="40.44" height="17.80" fill="#51cf66"/><rect x="311.10" y="161.50" width="40.44" height="45.20" fill="#fab005"/><rect x="311.10" y="140.70" width="40.44" height="20.80" fill="#51cf66"/><rect x="368.87" y="153.80" width="40.44" height="52.90" fill="#fab005"/><rect x="368.87" y="139.10" width="40.44" height="14.70" fill="#51cf66"/><rect x="426.64" y="161.50" width="40.44" height="45.20" fill="#fab005"/><rect x="426.64" y="143.90" width="40.44" height="17.60" fill="#51cf66"/><rect x="484.41" y="152.10" width="40.44" height="54.60" fill="#fab005"/><rect x="484.41" y="132.30" width="40.44" height="19.80" fill="#51cf66"/><rect x="542.18" y="140.70" width="40.44" height="66.00" fill="#fab005"/><rect x="542.18" y="119.50" width="40.44" height="21.20" fill="#51cf66"/><rect x="599.95" y="142.20" width="40.44" height="64.50" fill="#fab005"/><rect x="599.95" y="114.90" width="40.44" height="27.30" fill="#51cf66"/><rect x="657.72" y="129.20" width="40.44" height="77.50" fill="#fab005"/><rect x="657.72" y="119.50" width="40.44" height="9.70" fill="#51cf66"/><rect x="715.49" y="122.90" width="40.44" height="83.80" fill="#fab005"/><rect x="715.49" y="106.90" width="40.44" height="16.00" fill="#51cf66"/><rect x="773.26" y="148.50" width="40.44" height="58.20" fill="#fab005"/><rect x="773.26" y="114.90" width="40.44" height="33.60" fill="#51cf66"/><rect x="831.03" y="143.90" width="40.44" height="62.80" fill="#fab005"/><rect x="831.03" y="111.80" width="40.44" height="32.10" fill="#51cf66"/><rect x="888.80" y="147.10" width="40.44" height="59.60" fill="#fab005"/><rect x="888.80" y="114.90" width="40.44" height="32.20" fill="#51cf66"/><rect x="946.57" y="153.80" width="40.44" height="52.90" fill="#fab005"/><rect x="946.57" y="147.10" width="40.44" height="6.70" fill="#51cf66"/><rect x="1004.35" y="161.50" width="40.44" height="45.20" fill="#fab005"/><rect x="1004.35" y="150.20" width="40.44" height="11.30" fill="#51cf66"/><rect x="1062.12" y="143.90" width="40.44" height="62.80" fill="#fab005"/><rect x="1062.12" y="132.30" width="40.44" height="11.60" fill="#51cf66"/><rect x="1119.89" y="161.50" width="40.44" height="45.20" fill="#fab005"/><rect x="1119.89" y="152.10" width="40.44" height="9.40" fill="#51cf66"/><rect x="1177.66" y="152.10" width="40.44" height="54.60" fill="#fab005"/><rect x="1177.66" y="142.20" width="40.44" height="9.90" fill="#51cf66"/><rect x="1235.43" y="155.20" width="40.44" height="51.50" fill="#fab005"/><rect x="1235.43" y="148.90" width="40.44" height="6.30" fill="#51cf66"/><rect x="1293.20" y="169.70" width="40.44" height="37.00" fill="#fab005"/><rect x="1293.20" y="168.10" width="40.44" height="1.60" fill="#51cf66"/><rect x="1350.97" y="164.90" width="40.44" height="41.80" fill="#fab005"/><rect x="1350.97" y="156.90" width="40.44" height="8.00" fill="#51cf66"/><rect x="1408.74" y="163.20" width="40.44" height="43.50" fill="#fab005"/><rect x="1408.74" y="153.80" width="40.44" height="9.40" fill="#51cf66"/><rect x="1466.51" y="169.50" width="40.44" height="37.20" fill="#fab005"/><rect x="1466.51" y="158.40" width="40.44" height="11.10" fill="#51cf66"/><rect x="1524.28" y="160.10" width="40.44" height="46.60" fill="#fab005"/><rect x="1524.28" y="153.60" width="40.44" height="6.50" fill="#51cf66"/><rect x="1582.05" y="145.40" width="40.44" height="61.30" fill="#fab005"/><rect x="1582.05" y="143.70" width="40.44" height="1.70" fill="#51cf66"/><rect x="1639.82" y="140.70" width="40.44" height="66.00" fill="#fab005"/><rect x="1639.82" y="139.10" width="40.44" height="1.60" fill="#51cf66"/><rect x="1697.59" y="142.20" width="40.44" height="64.50" fill="#fab005"/><rect x="1697.59" y="139.10" width="40.44" height="3.10" fill="#51cf66"/><rect x="1755.36" y="145.40" width="40.44" height="61.30" fill="#fab005"/><rect x="1755.36" y="142.20" width="40.44" height="3.20" fill="#51cf66"/><rect x="1813.13" y="150.40" width="40.44" height="56.30" fill="#fab005"/><rect x="1813.13" y="145.80" width="40.44" height="4.60" fill="#51cf66"/><rect x="542.18" y="294.52" width="40.44" height="25.00" fill="#51cf66"/><rect x="599.95" y="269.52" width="40.44" height="50.00" fill="#51cf66"/><rect x="715.49" y="294.52" width="40.44" height="25.00" fill="#51cf66"/><rect x="1350.97" y="269.52" width="40.44" height="50.00" fill="#51cf66"/><rect x="1582.05" y="294.52" width="40.44" height="25.00" fill="#51cf66"/><rect x="1755.36" y="219.52" width="40.44" height="100.00" fill="#51cf66"/><rect x="253.33" y="356.25" width="40.44" height="76.09" fill="#51cf66"/><rect x="311.10" y="373.64" width="40.44" height="58.70" fill="#51cf66"/><rect x="368.87" y="332.34" width="40.44" height="100.00" fill="#51cf66"/><rect x="426.64" y="356.25" width="40.44" height="76.09" fill="#51cf66"/><rect x="484.41" y="364.95" width="40.44" height="67.39" fill="#51cf66"/><rect x="542.18" y="371.47" width="40.44" height="60.87" fill="#51cf66"/><rect x="599.95" y="380.17" width="40.44" height="52.17" fill="#51cf66"/><rect x="657.72" y="421.47" width="40.44" height="10.87" fill="#51cf66"/><rect x="715.49" y="408.43" width="40.44" height="23.91" fill="#51cf66"/><rect x="773.26" y="358.43" width="40.44" height="73.91" fill="#51cf66"/><rect x="831.03" y="371.47" width="40.44" height="60.87" fill="#51cf66"/><rect x="888.80" y="399.73" width="40.44" height="32.61" fill="#51cf66"/><rect x="946.57" y="386.69" width="40.44" height="45.65" fill="#51cf66"/><rect x="1004.35" y="406.25" width="40.44" height="26.09" fill="#51cf66"/><rect x="1062.12" y="356.25" width="40.44" height="76.09" fill="#51cf66"/><rect x="1119.89" y="430.82" width="40.44" height="1.52" fill="#fab005"/><rect x="1119.89" y="364.95" width="40.44" height="65.87" fill="#51cf66"/><rect x="1177.66" y="362.77" width="40.44" height="69.57" fill="#51cf66"/><rect x="1235.43" y="386.69" width="40.44" height="45.65" fill="#51cf66"/><rect x="1293.20" y="377.99" width="40.44" height="54.35" fill="#51cf66"/><rect x="1350.97" y="382.34" width="40.44" height="50.00" fill="#51cf66"/><rect x="1408.74" y="388.86" width="40.44" height="43.48" fill="#51cf66"/><rect x="1466.51" y="423.64" width="40.44" height="8.70" fill="#51cf66"/><rect x="1524.28" y="375.82" width="40.44" height="56.52" fill="#51cf66"/><rect x="1582.05" y="367.12" width="40.44" height="65.22" fill="#51cf66"/><rect x="1639.82" y="421.47" width="40.44" height="10.87" fill="#51cf66"/><rect x="1697.59" y="412.77" width="40.44" height="19.57" fill="#51cf66"/><rect x="1755.36" y="380.17" width="40.44" height="52.17" fill="#51cf66"/><rect x="1813.13" y="410.60" width="40.44" height="21.74" fill="#51cf66"/><rect x="1119.89" y="500.72" width="40.44" height="44.44" fill="#51cf66"/><rect x="1177.66" y="511.83" width="40.44" height="33.33" fill="#51cf66"/><rect x="1235.43" y="522.94" width="40.44" height="22.22" fill="#51cf66"/><rect x="1293.20" y="534.05" width="40.44" height="11.11" fill="#51cf66"/><rect x="1350.97" y="522.94" width="40.44" height="22.22" fill="#51cf66"/><rect x="1408.74" y="522.94" width="40.44" height="22.22" fill="#51cf66"/><rect x="1524.28" y="445.16" width="40.44" height="100.00" fill="#51cf66"/><rect x="1582.05" y="522.94" width="40.44" height="22.22" fill="#51cf66"/><rect x="1755.36" y="557.98" width="40.44" height="100.00" fill="#51cf66"/><rect x="253.33" y="750.80" width="40.44" height="20.00" fill="#fab005"/><rect x="368.87" y="765.80" width="40.44" height="5.00" fill="#fab005"/><rect x="426.64" y="740.80" width="40.44" height="30.00" fill="#fab005"/><rect x="484.41" y="755.80" width="40.44" height="15.00" fill="#fab005"/><rect x="599.95" y="755.80" width="40.44" height="15.00" fill="#fab005"/><rect x="715.49" y="765.80" width="40.44" height="5.00" fill="#fab005"/><rect x="888.80" y="755.80" width="40.44" height="15.00" fill="#fab005"/><rect x="946.57" y="670.80" width="40.44" height="100.00" fill="#fab005"/><rect x="1004.35" y="750.80" width="40.44" height="20.00" fill="#fab005"/><rect x="1062.12" y="730.80" width="40.44" height="40.00" fill="#fab005"/><rect x="1119.89" y="765.80" width="40.44" height="5.00" fill="#fab005"/><rect x="1350.97" y="765.80" width="40.44" height="5.00" fill="#fab005"/><rect x="1408.74" y="750.80" width="40.44" height="20.00" fill="#fab005"/><rect x="1466.51" y="760.80" width="40.44" height="10.00" fill="#fab005"/><rect x="1755.36" y="755.80" width="40.44" height="15.00" fill="#fab005"/><rect x="1813.13" y="765.80" width="40.44" height="5.00" fill="#fab005"/><rect x="253.33" y="850.29" width="40.44" height="33.33" fill="#fab005"/><rect x="368.87" y="783.62" width="40.44" height="100.00" fill="#fab005"/><rect x="484.41" y="816.95" width="40.44" height="66.67" fill="#fab005"/><rect x="542.18" y="850.29" width="40.44" height="33.33" fill="#fab005"/><rect x="599.95" y="816.95" width="40.44" height="66.67" fill="#fab005"/><rect x="657.72" y="850.29" width="40.44" height="33.33" fill="#fab005"/><rect x="715.49" y="783.62" width="40.44" height="100.00" fill="#fab005"/><rect x="831.03" y="816.95" width="40.44" height="66.67" fill="#fab005"/><rect x="888.80" y="850.29" width="40.44" height="33.33" fill="#fab005"/><rect x="946.57" y="816.95" width="40.44" height="66.67" fill="#fab005"/><rect x="1062.12" y="850.29" width="40.44" height="33.33" fill="#fab005"/><rect x="1119.89" y="816.95" width="40.44" height="66.67" fill="#fab005"/><rect x="1177.66" y="850.29" width="40.44" height="33.33" fill="#fab005"/><rect x="1293.20" y="850.29" width="40.44" height="33.33" fill="#fab005"/><rect x="1350.97" y="816.95" width="40.44" height="66.67" fill="#fab005"/><rect x="1466.51" y="816.95" width="40.44" height="66.67" fill="#fab005"/><rect x="1524.28" y="850.29" width="40.44" height="33.33" fill="#fab005"/><rect x="1582.05" y="850.29" width="40.44" height="33.33" fill="#fab005"/><rect x="1639.82" y="816.95" width="40.44" height="66.67" fill="#fab005"/><rect x="1755.36" y="816.95" width="40.44" height="66.67" fill="#fab005"/><rect x="253.33" y="956.44" width="40.44" height="40.00" fill="#fab005"/><rect x="311.10" y="916.44" width="40.44" height="80.00" fill="#fab005"/><rect x="368.87" y="896.44" width="40.44" height="100.00" fill="#fab005"/><rect x="426.64" y="906.44" width="40.44" height="90.00" fill="#fab005"/><rect x="484.41" y="926.44" width="40.44" height="70.00" fill="#fab005"/><rect x="542.18" y="916.44" width="40.44" height="80.00" fill="#fab005"/><rect x="773.26" y="936.44" width="40.44" height="60.00" fill="#fab005"/><rect x="831.03" y="936.44" width="40.44" height="60.00" fill="#fab005"/><rect x="888.80" y="966.44" width="40.44" height="30.00" fill="#fab005"/><rect x="1119.89" y="966.44" width="40.44" height="30.00" fill="#fab005"/><rect x="1177.66" y="956.44" width="40.44" height="40.00" fill="#fab005"/><rect x="1235.43" y="946.44" width="40.44" height="50.00" fill="#fab005"/><rect x="1293.20" y="966.44" width="40.44" height="30.00" fill="#fab005"/><rect x="1350.97" y="956.44" width="40.44" height="40.00" fill="#fab005"/><rect x="1524.28" y="956.44" width="40.44" height="40.00" fill="#fab005"/><rect x="1582.05" y="966.44" width="40.44" height="30.00" fill="#fab005"/></g><line x1="1870.9" y1="206.70" x2="1878.9" y2="206.70" class="tk"/><text class="yt" x="1887.9" y="206.70">0</text><line x1="1870.9" y1="153.51" x2="1878.9" y2="153.51" class="tk"/><text class="yt" x="1887.9" y="153.51">50</text><line x1="1870.9" y1="319.52" x2="1878.9" y2="319.52" class="tk"/><text class="yt" x="1887.9" y="319.52">0</text><line x1="1870.9" y1="269.52" x2="1878.9" y2="269.52" class="tk"/><text class="yt" x="1887.9" y="269.52">2</text><line x1="1870.9" y1="219.52" x2="1878.9" y2="219.52" class="tk"/><text class="yt" x="1887.9" y="219.52">4</text><line x1="1870.9" y1="432.34" x2="1878.9" y2="432.34" class="tk"/><text class="yt" x="1887.9" y="432.34">0</text><line x1="1870.9" y1="388.86" x2="1878.9" y2="388.86" class="tk"/><text class="yt" x="1887.9" y="388.86">20</text><line x1="1870.9" y1="345.38" x2="1878.9" y2="345.38" class="tk"/><text class="yt" x="1887.9" y="345.38">40</text><line x1="1870.9" y1="545.16" x2="1878.9" y2="545.16" class="tk"/><text class="yt" x="1887.9" y="545.16">0</text><line x1="1870.9" y1="489.60" x2="1878.9" y2="489.60" class="tk"/><text class="yt" x="1887.9" y="489.60">5</text><line x1="1870.9" y1="657.98" x2="1878.9" y2="657.98" class="tk"/><text class="yt" x="1887.9" y="657.98">0</text><line x1="1870.9" y1="607.98" x2="1878.9" y2="607.98" class="tk"/><text class="yt" x="1887.9" y="607.98">0.5</text><line x1="1870.9" y1="557.98" x2="1878.9" y2="557.98" class="tk"/><text class="yt" x="1887.9" y="557.98">1</text><line x1="1870.9" y1="770.80" x2="1878.9" y2="770.80" class="tk"/><text class="yt" x="1887.9" y="770.80">0</text><line x1="1870.9" y1="720.80" x2="1878.9" y2="720.80" class="tk"/><text class="yt" x="1887.9" y="720.80">10</text><line x1="1870.9" y1="670.80" x2="1878.9" y2="670.80" class="tk"/><text class="yt" x="1887.9" y="670.80">20</text><line x1="1870.9" y1="883.62" x2="1878.9" y2="883.62" class="tk"/><text class="yt" x="1887.9" y="883.62">0</text><line x1="1870.9" y1="816.95" x2="1878.9" y2="816.95" class="tk"/><text class="yt" x="1887.9" y="816.95">2</text><line x1="1870.9" y1="996.44" x2="1878.9" y2="996.44" class="tk"/><text class="yt" x="1887.9" y="996.44">0</text><line x1="1870.9" y1="946.44" x2="1878.9" y2="946.44" class="tk"/><text class="yt" x="1887.9" y="946.44">5</text><line x1="1870.9" y1="896.44" x2="1878.9" y2="896.44" class="tk"/><text class="yt" x="1887.9" y="896.44">10</text></svg>
</div>
<div id="track"></div>
<div id="thumb"></div>
<div id="bottom"></div>
</body></html>
